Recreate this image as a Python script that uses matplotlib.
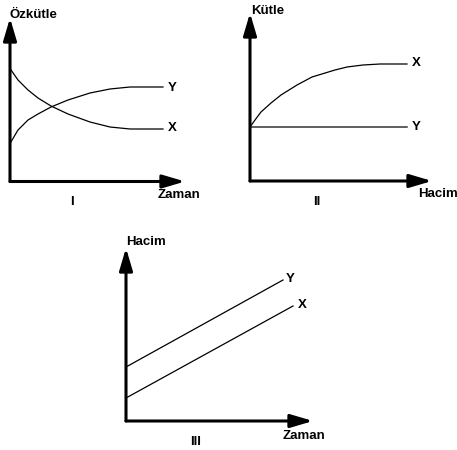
import numpy as np
import matplotlib
matplotlib.use('Agg')
import matplotlib.pyplot as plt

plt.rcParams['font.family'] = ['Liberation Sans', 'DejaVu Sans']

W, H = 457, 450

# grafik I : ozkutle - zaman
t1 = [0, 8, 18, 28, 41, 58, 80, 100, 120, 153]
ozkutle_x = [113, 101.5, 91.5, 83.5, 75.5, 67.5, 59.5, 54.5, 52.5, 52.5]
ozkutle_y = [38, 51.5, 61.5, 67.5, 74.5, 81.5, 88.5, 92.5, 94.5, 94.5]

# grafik II : kutle - hacim
v2 = [0, 5, 11, 21, 31, 47, 62, 85, 97, 113, 130, 157]
kutle_x = [54, 61, 69, 78, 86, 96, 104, 111, 114, 116, 117, 117]
v2_y = [0, 157]
kutle_y = [54, 54]

# grafik III : hacim - zaman
t3_y = [0, 157]
hacim_y = [54, 141]
t3_x = [0, 167]
hacim_x = [23, 115]

fig = plt.figure(figsize=(W/100, H/100), dpi=100)
fs = 9.5


def arrow(ax, tip):
    ax.annotate('', xy=tip, xytext=(0, 0), annotation_clip=False,
                arrowprops=dict(arrowstyle='-|>,head_length=1.35,head_width=0.4',
                                mutation_scale=10, lw=2.2, color='black',
                                shrinkA=0, shrinkB=0))


def make_ax(ox, oy, w, h):
    ax = fig.add_axes([ox/W, 1-oy/H, w/W, h/H])
    ax.set_xlim(0, w)
    ax.set_ylim(0, h)
    ax.axis('off')
    arrow(ax, (w, 0))
    arrow(ax, (0, h))
    return ax


def lab(ax, x, y, s, ha='left', va='center'):
    ax.text(x, y, s, ha=ha, va=va, fontsize=fs, fontweight='bold', clip_on=False)


# I
ax1 = make_ax(10, 181.5, 175, 163.5)
ax1.plot(t1, ozkutle_x, color='black', lw=0.9, clip_on=False)
ax1.plot(t1, ozkutle_y, color='black', lw=0.9, clip_on=False)
lab(ax1, 0, 163.5, 'Özkütle', va='baseline')
lab(ax1, 158, 93.5, 'Y')
lab(ax1, 158, 53.5, 'X')
lab(ax1, 148, -13.5, 'Zaman')
lab(ax1, 62, -20.5, 'I', ha='center')

# II
ax2 = make_ax(250, 181, 182, 168)
ax2.plot(v2, kutle_x, color='black', lw=0.9, clip_on=False)
ax2.plot(v2_y, kutle_y, color='#333333', lw=1.1, clip_on=False)
lab(ax2, 1, 167.5, 'Kütle', va='baseline')
lab(ax2, 162, 117.7, 'X')
lab(ax2, 162, 54.3, 'Y')
lab(ax2, 168, -13, 'Hacim')
lab(ax2, 66.7, -21, 'II', ha='center')

# III
ax3 = make_ax(126, 421, 187, 173)
ax3.plot(t3_y, hacim_y, color='black', lw=0.9, clip_on=False)
ax3.plot(t3_x, hacim_x, color='black', lw=0.9, clip_on=False)
lab(ax3, 0, 176, 'Hacim', va='baseline')
lab(ax3, 159.7, 141.7, 'Y')
lab(ax3, 172, 116, 'X')
lab(ax3, 157, -15, 'Zaman')
lab(ax3, 70, -21, 'III', ha='center')

fig.savefig('out.png', dpi=100)
